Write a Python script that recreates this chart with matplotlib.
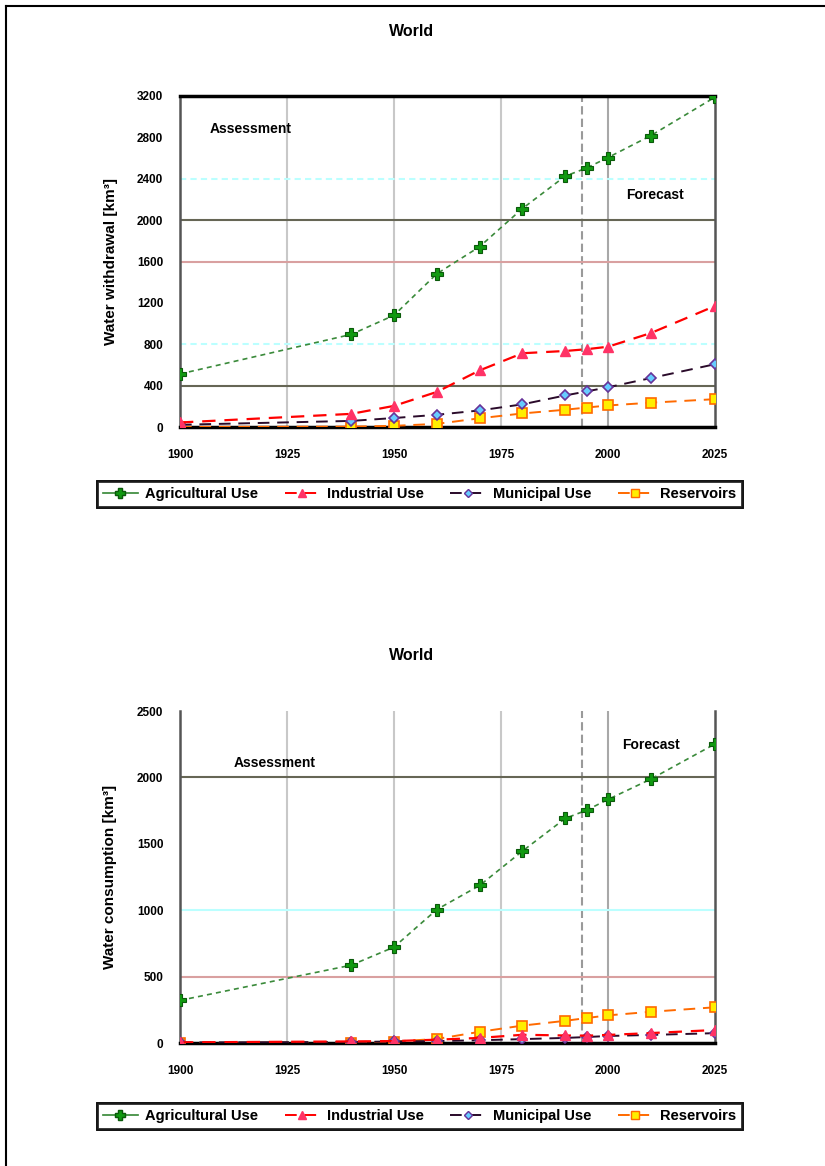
import numpy as np
import matplotlib
matplotlib.use('Agg')
import matplotlib.pyplot as plt
from matplotlib.lines import Line2D

plt.rcParams['font.family'] = ['Liberation Sans', 'DejaVu Sans']

# years of the estimates
years = [1900, 1940, 1950, 1960, 1970, 1980, 1990, 1995, 2000, 2010, 2025]

# withdrawal, km3
ag_w = [513, 895, 1080, 1481, 1743, 2112, 2425, 2504, 2605, 2817, 3189]
ind_w = [43.7, 127, 204, 339, 547, 713, 735, 752, 776, 908, 1170]
mun_w = [21.5, 58.9, 86.7, 118, 160, 219, 305, 344, 384, 473, 607]
res_w = [0.3, 3.7, 11.1, 30.2, 84.2, 131, 167, 188, 208, 235, 269]

# consumption, km3
ag_c = [321, 586, 722, 1005, 1186, 1445, 1691, 1753, 1834, 1987, 2252]
ind_c = [4.8, 11.9, 14.5, 24.9, 38.3, 61.9, 56.7, 55.2, 60.8, 74.8, 97.8]
mun_c = [4.0, 7.4, 11.3, 14.7, 20.7, 29.2, 38.3, 44.8, 52.8, 60.8, 74.1]
res_c = [0.3, 3.7, 11.1, 30.2, 84.2, 131, 167, 188, 208, 235, 269]

labels = ['Agricultural Use', 'Industrial Use', 'Municipal Use', 'Reservoirs']
x_ticks = [1900, 1925, 1950, 1975, 2000, 2025]


def draw_panel(ax, series, ymax, ystep, hgrid, text_pos, top_spine):
    ag, ind, mun, res = series
    # grid lines
    for v in [1925, 1950, 1975]:
        ax.axvline(v, color='#c8c8c8', lw=1.5, zorder=1)
    ax.axvline(1994, color='#9a9a9a', lw=1.5, ls=(0, (4, 2)), zorder=1)
    ax.axvline(2000, color='#a8a8a8', lw=1.5, zorder=1)
    for v, c, ls in hgrid:
        ax.axhline(v, color=c, lw=1.5, ls=ls, zorder=1)

    ax.plot(years, res, color='#ff6a00', lw=1.4, ls=(0, (6, 4)), marker='s', ms=7,
            mfc='#ffee00', mec='#ff6a00', mew=1.2, zorder=3)
    ax.plot(years, mun, color='#2a0a2a', lw=1.4, ls=(0, (6, 4)), marker='D', ms=5,
            mfc='#66ccff', mec='#663399', mew=1.2, zorder=4)
    ax.plot(years, ind, color='#ff0000', lw=1.6, ls=(0, (6, 4)), marker='^', ms=7,
            mfc='#ff3366', mec='#ff3366', zorder=5)
    ax.plot(years, ag, color='#3a8a3a', lw=1.2, ls=(0, (3, 2.5)), marker='P', ms=8,
            mfc='#119911', mec='#0a5a0a', mew=0.8, zorder=6)

    ax.set_xlim(1900, 2025)
    ax.set_ylim(0, ymax)
    ax.set_xticks(x_ticks)
    ax.set_yticks(np.arange(0, ymax + 1, ystep))
    ax.tick_params(axis='y', length=0, labelsize=8.5, pad=12)
    ax.tick_params(axis='x', length=0, labelsize=8.5, pad=16)
    for t in ax.get_xticklabels() + ax.get_yticklabels():
        t.set_fontweight('bold')

    ax.spines['left'].set_color('#555555')
    ax.spines['left'].set_linewidth(1.8)
    ax.spines['right'].set_color('#555555')
    ax.spines['right'].set_linewidth(1.8)
    ax.spines['bottom'].set_color('black')
    ax.spines['bottom'].set_linewidth(2.5)
    if top_spine:
        ax.spines['top'].set_color('black')
        ax.spines['top'].set_linewidth(2.5)
    else:
        ax.spines['top'].set_visible(False)

    (ax_x, ax_y), (fx, fy) = text_pos
    ax.text(ax_x, ax_y, 'Assessment', fontsize=10, fontweight='bold', ha='center', va='center')
    ax.text(fx, fy, 'Forecast', fontsize=10, fontweight='bold', ha='center', va='center')


fig = plt.figure(figsize=(8.25, 11.66), dpi=100)

# top panel: withdrawal
ax1 = fig.add_axes([180 / 825, 1 - 427 / 1166, 535 / 825, 331 / 1166])
draw_panel(ax1, (ag_w, ind_w, mun_w, res_w), 3200, 400,
           [(400, '#666655', '-'), (2000, '#666655', '-'), (1600, '#d9a0a0', '-'),
            (800, '#bbffff', (0, (3, 2))), (2400, '#bbffff', (0, (3, 2)))],
           ((1916.5, 2880), (2011, 2240)), True)
ax1.set_ylabel('Water withdrawal [km³]', fontsize=11, fontweight='bold', labelpad=14)
fig.text(412 / 825, 1 - 32 / 1166, 'World', fontsize=11.5, fontweight='bold', ha='center', va='center')

# bottom panel: consumption
ax2 = fig.add_axes([180 / 825, 1 - 1043 / 1166, 535 / 825, 332 / 1166])
draw_panel(ax2, (ag_c, ind_c, mun_c, res_c), 2500, 500,
           [(2000, '#666655', '-'), (1000, '#bbffff', '-'), (500, '#d9a0a0', '-')],
           ((1922, 2110), (2010, 2245)), False)
ax2.set_ylabel('Water consumption [km³]', fontsize=11, fontweight='bold', labelpad=14)
fig.text(412 / 825, 1 - 655 / 1166, 'World', fontsize=11.5, fontweight='bold', ha='center', va='center')

# legends
handles = [
    Line2D([], [], color='#3a8a3a', lw=1.2, marker='P', ms=7, mfc='#119911', mec='#0a5a0a'),
    Line2D([], [], color='#ff0000', lw=1.4, ls=(0, (6, 4)), marker='^', ms=6, mfc='#ff3366', mec='#ff3366'),
    Line2D([], [], color='#2a0a2a', lw=1.4, ls=(0, (6, 4)), marker='D', ms=4, mfc='#66ccff', mec='#663399'),
    Line2D([], [], color='#ff6a00', lw=1.4, ls=(0, (6, 4)), marker='s', ms=6, mfc='#ffee00', mec='#ff6a00'),
]
for ybot in [508, 1130]:
    leg = fig.legend(handles, labels, loc='center', ncol=4, mode='expand',
                     bbox_to_anchor=(97 / 825, 1 - ybot / 1166, 645 / 825, 28 / 1166),
                     prop={'size': 10.5, 'weight': 'bold'}, fancybox=False, frameon=True,
                     borderaxespad=0, handlelength=2.4, handletextpad=0.5, columnspacing=0.8)
    leg.get_frame().set_edgecolor('black')
    leg.get_frame().set_linewidth(2)
    fig.add_artist(leg)

# page frame (top and left only)
fig.add_artist(Line2D([6 / 825, 1], [1 - 6 / 1166, 1 - 6 / 1166], color='black', lw=1.5))
fig.add_artist(Line2D([6 / 825, 6 / 825], [0, 1 - 6 / 1166], color='black', lw=1.5))

fig.savefig('out.png', dpi=100)
